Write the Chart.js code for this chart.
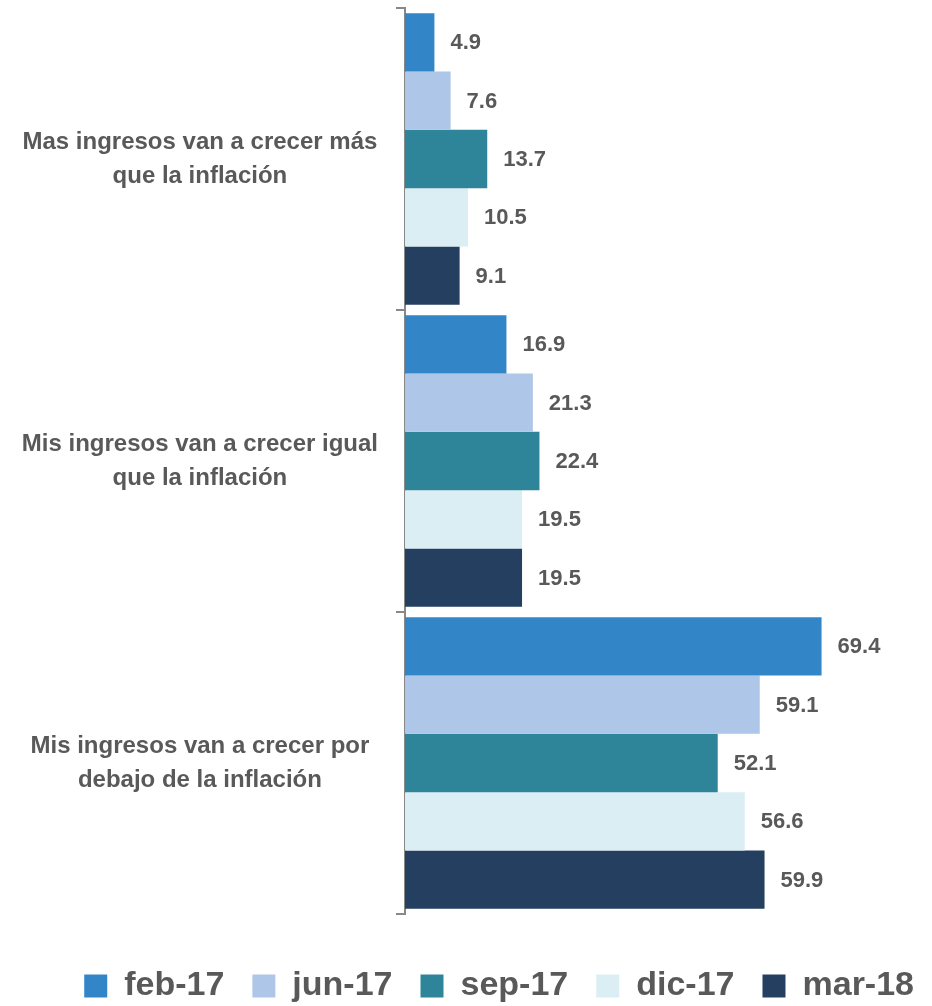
<!DOCTYPE html>
<html>
<head>
<meta charset="utf-8">
<script src="https://cdn.jsdelivr.net/npm/chart.js"></script>
<style>
  html, body { margin: 0; padding: 0; background: #fff; }
  #wrap { width: 932px; height: 1006px; }
</style>
</head>
<body>
<div id="wrap"><canvas id="chart" width="932" height="1006"></canvas></div>
<script>
const categories = [
  ["Mas ingresos van a crecer más", "que la inflación"],
  ["Mis ingresos van a crecer igual", "que la inflación"],
  ["Mis ingresos van a crecer por", "debajo de la inflación"]
];
const seriesNames = ["feb-17", "jun-17", "sep-17", "dic-17", "mar-18"];
const feb17 = [4.9, 16.9, 69.4];
const jun17 = [7.6, 21.3, 59.1];
const sep17 = [13.7, 22.4, 52.1];
const dic17 = [10.5, 19.5, 56.6];
const mar18 = [9.1, 19.5, 59.9];
const seriesColors = ["#3286c8", "#aec6e7", "#2e859a", "#daeef3", "#243f60"];

const FONT = "'Liberation Sans', Arial, sans-serif";
const TEXT = "#595959";

// value printed just past the end of each bar
const valueLabels = {
  id: "valueLabels",
  afterDatasetsDraw(chart) {
    const ctx = chart.ctx;
    ctx.save();
    ctx.font = "bold 22px " + FONT;
    ctx.fillStyle = TEXT;
    ctx.textAlign = "left";
    ctx.textBaseline = "middle";
    chart.data.datasets.forEach((ds, i) => {
      chart.getDatasetMeta(i).data.forEach((bar, j) => {
        ctx.fillText(ds.data[j].toFixed(1), bar.x + 16, bar.y + 1);
      });
    });
    ctx.restore();
  }
};

const allSeries = [feb17, jun17, sep17, dic17, mar18];

new Chart(document.getElementById("chart"), {
  type: "bar",
  data: {
    labels: categories,
    datasets: allSeries.map((d, i) => ({
      label: seriesNames[i],
      data: d,
      backgroundColor: seriesColors[i],
      borderWidth: 0,
      categoryPercentage: 0.965,
      barPercentage: 1
    }))
  },
  options: {
    indexAxis: "y",
    responsive: false,
    animation: false,
    layout: { padding: { left: 0, right: -10, top: 8, bottom: -7 } },
    scales: {
      x: {
        display: true,
        min: 0,
        max: 87.8,
        ticks: { display: false },
        grid: { display: false },
        border: { display: false },
        afterFit(s) { s.height = 27; }
      },
      y: {
        afterFit(s) {
          s.width = 405;
          s.paddingTop = 0;
          s.paddingBottom = 0;
        },
        border: { color: "#888", width: 2 },
        grid: { drawOnChartArea: false, color: "#888", lineWidth: 2, tickLength: 9, offset: true },
        ticks: {
          crossAlign: "center",
          padding: 18,
          color: TEXT,
          font: { family: FONT, weight: "bold", size: 24, lineHeight: 1.42 }
        }
      }
    },
    plugins: {
      tooltip: { enabled: false },
      legend: {
        position: "bottom",
        align: "end",
        labels: {
          boxWidth: 23,
          boxHeight: 23,
          padding: 28,
          color: TEXT,
          font: { family: FONT, weight: "bold", size: 34, lineHeight: 1.2 }
        }
      }
    }
  },
  plugins: [valueLabels]
});
</script>
</body>
</html>
